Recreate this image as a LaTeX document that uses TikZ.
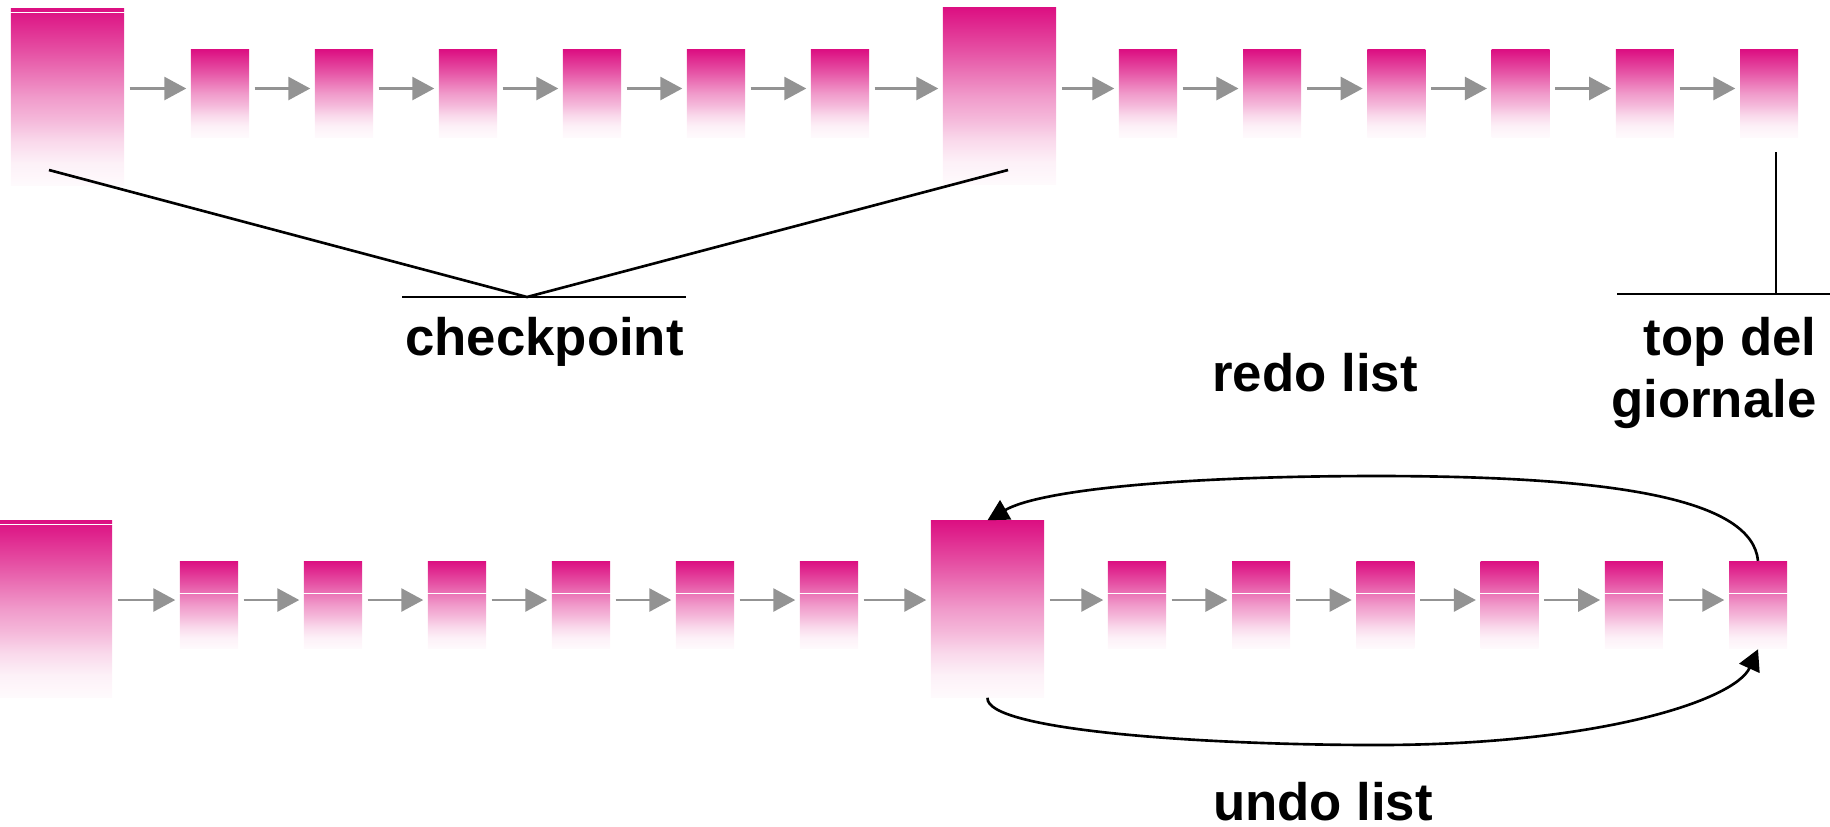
\documentclass[tikz,border=0pt]{standalone}
\usepackage{fontspec}
\setmainfont{Liberation Sans}
\usetikzlibrary{arrows.meta}
\definecolor{logmag}{RGB}{220,16,130}
\definecolor{arrgray}{RGB}{147,147,147}
\pgfdeclareverticalshading{logfade}{100bp}{color(0bp)=(white); color(25bp)=(logmag!2); color(31.25bp)=(logmag!6); color(37.5bp)=(logmag!16); color(43.75bp)=(logmag!30); color(50bp)=(logmag!42); color(62.5bp)=(logmag!72); color(75bp)=(logmag); color(100bp)=(logmag)}
\begin{document}
\begin{tikzpicture}[x=0.01cm,y=-0.01cm,
    chk/.style={rectangle,inner sep=0pt,shade,shading=logfade,minimum width=1.13cm,minimum height=1.76cm},
    rec/.style={rectangle,inner sep=0pt,shade,shading=logfade,minimum width=0.58cm,minimum height=0.87cm},
    nxt/.style={-{Triangle[length=2.2mm,width=2.3mm]},line width=0.8pt,color=arrgray,shorten <=0.5mm,shorten >=0.4mm},
    seam/.style={white,line width=0.3pt},
    rule/.style={line width=0.75pt},
    lst/.style={-{Triangle[length=2.1mm,width=2.2mm]},line width=0.75pt},
    lbl/.style={font=\fontsize{15}{17.5}\selectfont\bfseries,inner sep=0pt}]
    \useasboundingbox (0,0) rectangle (1830,826);

    \coordinate (toprow) at (0,88.5);
    \coordinate (botrow) at (0,600);

    \node[chk] (t0) at (67.5,97) {};
    \node[chk] (t7) at (999.5,96) {};
    \node[chk] (b0) at (55.5,609) {};
    \node[chk] (b7) at (987.5,609) {};
    \foreach \i in {1,...,6} {
        \node[rec] (t\i) at ({96+124*\i},93.5) {};
        \node[rec] (b\i) at ({85+124*\i},605) {};
    }
    \foreach \i in {8,...,13} {
        \node[rec] (t\i) at ({1148+124.2*(\i-8)},93.5) {};
        \node[rec] (b\i) at ({1137+124.2*(\i-8)},605) {};
    }
    \draw[seam] ([yshift=-0.04cm]t0.north west) -- ([yshift=-0.04cm]t0.north east);
    \draw[seam] ([yshift=-0.04cm]b0.north west) -- ([yshift=-0.04cm]b0.north east);
    \foreach \i in {1,...,6,8,9,...,13}
        \draw[seam] ([yshift=-0.33cm]b\i.north west) -- ([yshift=-0.33cm]b\i.north east);

    \foreach \i [count=\j from 1] in {0,...,12} {
        \draw[nxt] (t\i.east |- toprow) -- (t\j.west |- toprow);
        \draw[nxt] (b\i.east |- botrow) -- (b\j.west |- botrow);
    }

    \coordinate (ckL) at (49,170);
    \coordinate (ckR) at (1008,170);
    \coordinate (ckM) at (527,297);
    \draw[rule] (ckL) -- (ckM) -- (ckR);
    \draw[rule] (402,297) -- (686,297);
    \node[lbl,anchor=base] (ckp) at (544.5,355) {checkpoint};

    \coordinate (topA) at (1776,152);
    \coordinate (topB) at (1776,294);
    \draw[rule] (topA) -- (topB);
    \draw[rule] (1617,294) -- (1830,294);
    \node[lbl,anchor=north east,align=right] (top) at (1817,317) {top del\\giornale};

    \draw[lst] (b13.north) .. controls (1752,500) and (1620,476) .. (1377,476)
        .. controls (1180,476) and (1040,490) .. (b7.north);
    \node[lbl,anchor=base] (redo) at (1315,391) {redo list};

    \draw[lst] (b7.south) .. controls (985,730) and (1200,745) .. (1377,745)
        .. controls (1600,745) and (1735,700) .. (b13.south);
    \node[lbl,anchor=base] (undo) at (1323,820) {undo list};
\end{tikzpicture}
\end{document}
